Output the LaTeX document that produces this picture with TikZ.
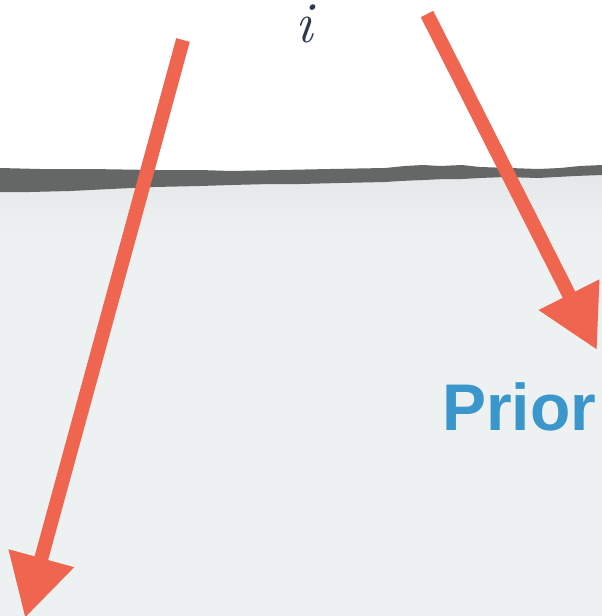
\documentclass[tikz,border=0pt]{standalone}
\usepackage{fontspec}
\setsansfont{Liberation Sans}
\usetikzlibrary{arrows.meta}

\definecolor{arrowred}{HTML}{F0654F}
\definecolor{priorblue}{HTML}{3A96CB}
\definecolor{inkgray}{HTML}{646766}
\definecolor{paper}{HTML}{EEF1F2}
\definecolor{paperdark}{HTML}{E5E8E9}
\definecolor{labelnavy}{HTML}{2B3A4E}

\begin{document}
\begin{tikzpicture}[x=1pt,y=-1pt,
  pointer/.style={draw=arrowred, fill=arrowred, line width=14pt, line cap=butt,
    -{Triangle[length=62pt,width=64pt]}},
  mathlabel/.style={text=labelnavy, inner sep=0pt, font=\itshape\fontsize{58}{58}\selectfont},
  bluelabel/.style={text=priorblue, inner sep=0pt, font=\sffamily\bfseries\fontsize{66}{66}\selectfont}
]
\useasboundingbox (0,0) rectangle (602,616);
\clip (0,0) rectangle (602,616);
\fill[white] (0,0) rectangle (602,616);

% pale ground below the ink stroke
\fill[paper] (602,175) -- (575,176) -- (538,178) -- (505,177) -- (480,178) -- (462,179)
  -- (445,179) -- (423,180) -- (400,181) -- (385,182) -- (340,183) -- (300,184)
  -- (270,184) -- (231,185) -- (200,186) -- (154,187) -- (110,189) -- (70,191)
  -- (30,192) -- (0,192) -- (0,616) -- (602,616) -- cycle;
\shade[top color=paperdark, bottom color=paper] (0,175) rectangle (602,235);

% rough horizontal ink stroke
\fill[inkgray] (0,168) -- (40,169) -- (90,169) -- (154,170) -- (200,170) -- (231,171)
  -- (280,170) -- (330,169) -- (385,168) -- (405,166) -- (423,165) -- (440,166)
  -- (462,165) -- (480,167) -- (510,168) -- (538,169) -- (560,168) -- (580,166)
  -- (602,165)
  -- (602,175) -- (575,176) -- (538,178) -- (505,177) -- (480,178) -- (462,179)
  -- (445,179) -- (423,180) -- (400,181) -- (385,182) -- (340,183) -- (300,184)
  -- (270,184) -- (231,185) -- (200,186) -- (154,187) -- (110,189) -- (70,191)
  -- (30,192) -- (0,192) -- cycle;

% labels
\node[mathlabel, anchor=base] (ilabel) at (304,42) {i};
\node[bluelabel, anchor=base west] (prior) at (442,430) {Prior};

% arrows
\coordinate (lstart) at (183,40);
\coordinate (lend) at (25,618);
\coordinate (rstart) at (427,14);
\coordinate (rend) at (597,350);
\draw[pointer] (lstart) -- (lend);
\draw[pointer] (rstart) -- (rend);
\end{tikzpicture}
\end{document}
